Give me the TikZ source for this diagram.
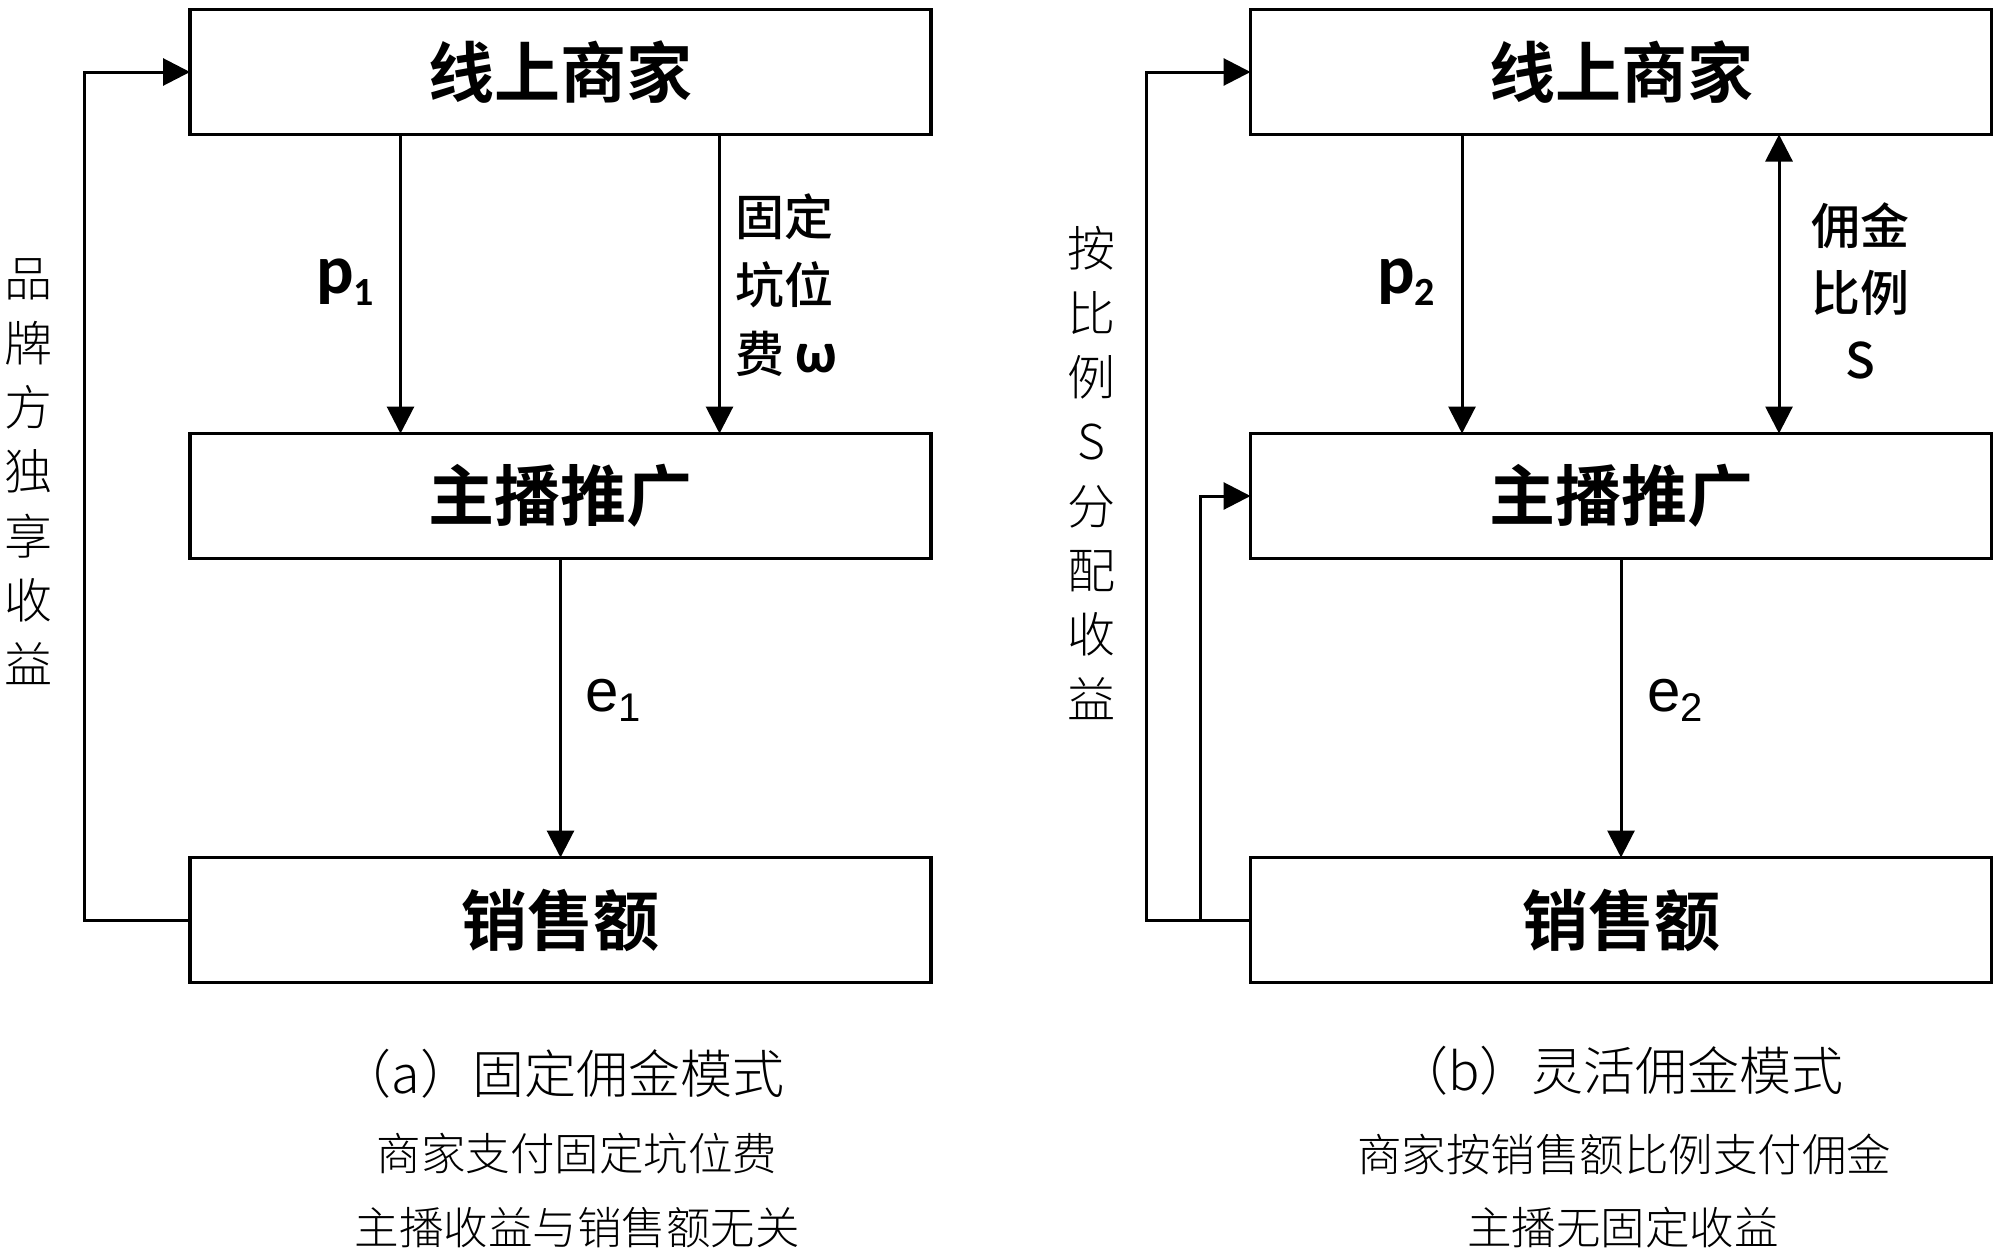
\documentclass[tikz,border=0pt]{standalone}
\usepackage{fontspec}
\usetikzlibrary{arrows.meta}
\IfFontExistsTF{Noto Sans CJK SC Bold}{\newfontfamily\cjkbold{Noto Sans CJK SC Bold}}{\newfontfamily\cjkbold{Noto Sans CJK SC}[FakeBold=2]}
\IfFontExistsTF{Noto Sans CJK SC Medium}{\newfontfamily\cjkmed{Noto Sans CJK SC Medium}}{\newfontfamily\cjkmed{Noto Sans CJK SC}}
\IfFontExistsTF{Noto Sans CJK SC Light}{\newfontfamily\cjklight{Noto Sans CJK SC Light}}{\newfontfamily\cjklight{Noto Sans CJK SC}}
\newfontfamily\calibri{Carlito}
\newfontfamily\arial{Liberation Sans}
\begin{document}
\begin{tikzpicture}[x=1pt,y=-1pt,
  box/.style={draw, line width=3.5pt, minimum width=741pt, minimum height=125pt, inner sep=0pt, outer sep=0pt,
    font=\cjkbold\fontsize{66}{70}\selectfont},
  arr/.style={line width=3pt, -{Triangle[width=27pt,length=27pt]}},
  dbl/.style={line width=3pt, {Triangle[width=27pt,length=27pt]}-{Triangle[width=27pt,length=27pt]}},
  lbl/.style={inner sep=0pt, outer sep=0pt},
  plab/.style={lbl, anchor=base west, font=\calibri\bfseries\fontsize{70}{70}\selectfont},
  elab/.style={lbl, anchor=base west, font=\arial\fontsize{60}{60}\selectfont},
  side/.style={lbl, align=center, font=\cjklight\fontsize{48}{64.3}\selectfont},
  captext/.style={lbl, font=\cjklight\fontsize{52}{52}\selectfont},
  subtext/.style={lbl, font=\cjklight\fontsize{44.5}{44.5}\selectfont}]
\fill[white] (0,0) rectangle (1999,1256);
\useasboundingbox (0,0) rectangle (1999,1256);

% left panel
\node[box] (m1) at (560.5,72) {线上商家};
\node[box] (a1) at (560.5,496) {主播推广};
\node[box] (s1) at (560.5,920) {销售额};
\draw[arr] ([xshift=-160pt]m1.south) -- ([xshift=-160pt]a1.south |- a1.north);
\draw[arr] ([xshift=159pt]m1.south) -- ([xshift=159pt]a1.south |- a1.north);
\draw[arr] (a1.south) -- (s1.north);
\draw[arr] (s1.west) -- ++(-106,0) |- (m1.west);
\node[plab] (p1) at (316,293) {p\raisebox{-12pt}{\fontsize{40}{40}\selectfont 1}};
\node[lbl, anchor=west, align=left, font=\cjkmed\fontsize{49}{68.5}\selectfont] (fee) at (735,285)
  {固定\\坑位\\费 {\calibri\bfseries\fontsize{58}{58}\selectfont ω}};
\node[elab] (e1) at (585,711) {e\raisebox{-10pt}{\fontsize{40}{40}\selectfont 1}};
\node[side] (vl) at (29,472) {品\\牌\\方\\独\\享\\收\\益};
\node[captext] (capa) at (562,1074) {（a）固定佣金模式};
\node[subtext] (suba1) at (577,1154) {商家支付固定坑位费};
\node[subtext] (suba2) at (577,1228) {主播收益与销售额无关};

% right panel
\node[box] (m2) at (1621,72) {线上商家};
\node[box] (a2) at (1621,496) {主播推广};
\node[box] (s2) at (1621,920) {销售额};
\draw[arr] ([xshift=-159pt]m2.south) -- ([xshift=-159pt]a2.south |- a2.north);
\draw[dbl] ([xshift=158pt]m2.south) -- ([xshift=158pt]a2.south |- a2.north);
\draw[arr] (a2.south) -- (s2.north);
\draw[arr] (s2.west) -- ++(-104,0) |- (m2.west);
\coordinate (j2) at ([xshift=-50pt]s2.west);
\draw[arr] (j2) |- (a2.west);
\node[plab] (p2) at (1377,293) {p\raisebox{-12pt}{\fontsize{40}{40}\selectfont 2}};
\node[lbl, align=center, font=\cjkmed\fontsize{49}{67}\selectfont] (ratio) at (1860,291)
  {佣金\\比例\\S};
\node[elab] (e2) at (1647,711) {e\raisebox{-10pt}{\fontsize{40}{40}\selectfont 2}};
\node[side] (vr) at (1091,473) {按\\比\\例\\S\\分\\配\\收\\益};
\node[captext] (capb) at (1620,1071) {（b）灵活佣金模式};
\node[subtext] (subb1) at (1624,1154) {商家按销售额比例支付佣金};
\node[subtext] (subb2) at (1623,1228) {主播无固定收益};
\end{tikzpicture}
\end{document}
